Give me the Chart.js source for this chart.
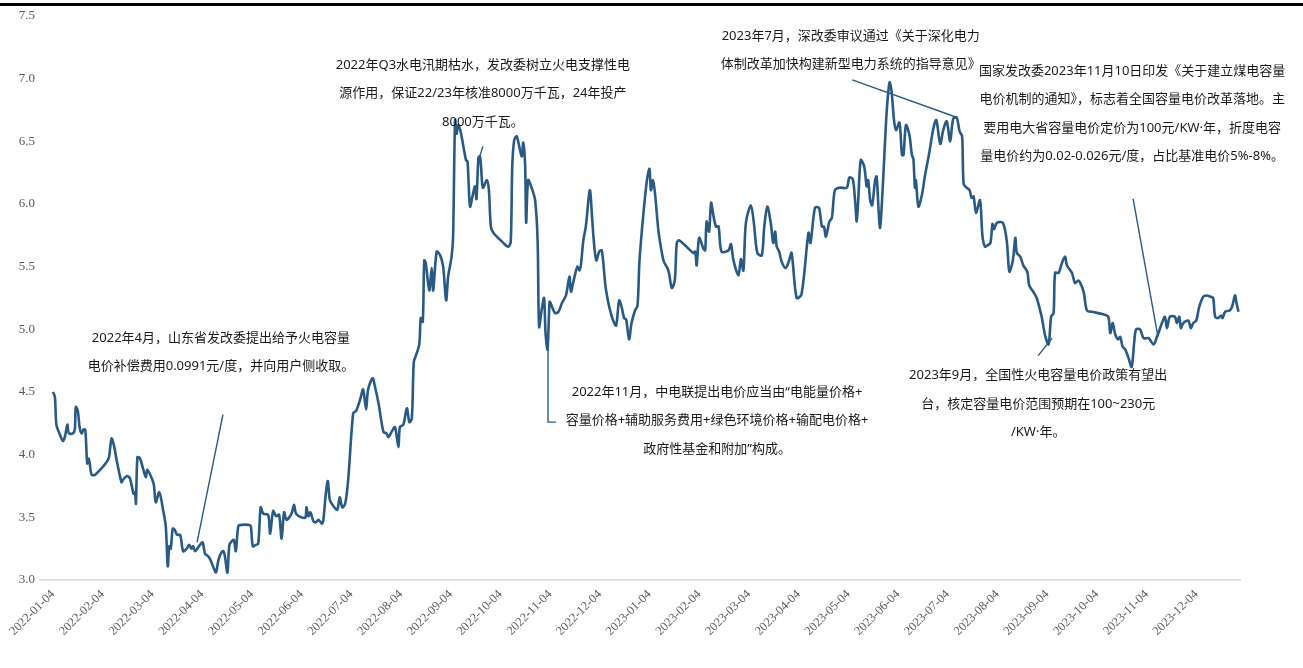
<!DOCTYPE html>
<html>
<head>
<meta charset="utf-8">
<script src="https://cdn.jsdelivr.net/npm/chart.js@4.4.1/dist/chart.umd.min.js"></script>
<style>
  html, body { margin: 0; padding: 0; background: #fff; }
  .wrap { position: relative; width: 1303px; height: 668px; }
  .topbar { position: absolute; left: 0; top: 3px; width: 1303px; height: 3px; background: #000; }
  canvas { display: block; }
</style>
</head>
<body>
<div class="wrap">
  <canvas id="priceChart" width="1303" height="668"></canvas>
  <div class="topbar"></div>
</div>
<script>
const lineColor = '#285a84';
const tickColor = '#595959';

const tickLabels = [
  '2022-01-04', '2022-02-04', '2022-03-04', '2022-04-04', '2022-05-04', '2022-06-04',
  '2022-07-04', '2022-08-04', '2022-09-04', '2022-10-04', '2022-11-04', '2022-12-04',
  '2023-01-04', '2023-02-04', '2023-03-04', '2023-04-04', '2023-05-04', '2023-06-04',
  '2023-07-04', '2023-08-04', '2023-09-04', '2023-10-04', '2023-11-04', '2023-12-04'
];

// position in months after 2022-01-04
const monthPos = [
  0.00, 0.04, 0.07, 0.14, 0.20, 0.24, 0.29, 0.32, 0.40, 0.44, 0.46, 0.50, 0.54, 0.58, 0.61, 0.65,
  0.69, 0.72, 0.74, 0.78, 0.85, 1.11, 1.15, 1.18, 1.23, 1.28, 1.38, 1.41, 1.49, 1.55, 1.62, 1.65,
  1.67, 1.70, 1.75, 1.82, 1.87, 1.90, 1.99, 2.03, 2.07, 2.14, 2.22, 2.27, 2.31, 2.34, 2.37, 2.41,
  2.45, 2.50, 2.56, 2.62, 2.69, 2.74, 2.79, 2.82, 2.86, 2.94, 3.01, 3.06, 3.12, 3.17, 3.24, 3.28,
  3.33, 3.39, 3.43, 3.46, 3.51, 3.55, 3.60, 3.64, 3.68, 3.73, 3.80, 3.93, 3.98, 4.02, 4.08, 4.13,
  4.18, 4.23, 4.33, 4.37, 4.43, 4.49, 4.55, 4.60, 4.65, 4.70, 4.80, 4.85, 4.89, 5.00, 5.08, 5.10,
  5.14, 5.18, 5.24, 5.29, 5.34, 5.41, 5.44, 5.49, 5.53, 5.57, 5.64, 5.72, 5.77, 5.82, 5.88, 5.94,
  6.04, 6.10, 6.18, 6.24, 6.30, 6.34, 6.43, 6.48, 6.55, 6.65, 6.71, 6.75, 6.81, 6.88, 6.95, 6.98,
  7.05, 7.12, 7.17, 7.22, 7.26, 7.31, 7.37, 7.40, 7.44, 7.47, 7.50, 7.57, 7.62, 7.65, 7.72, 7.79,
  7.85, 7.91, 7.95, 8.02, 8.05, 8.09, 8.12, 8.15, 8.20, 8.31, 8.34, 8.39, 8.44, 8.49, 8.52, 8.56,
  8.59, 8.61, 8.65, 8.73, 8.77, 8.81, 8.86, 9.06, 9.16, 9.21, 9.24, 9.28, 9.33, 9.43, 9.46, 9.50,
  9.52, 9.56, 9.63, 9.70, 9.75, 9.78, 9.83, 9.88, 9.91, 9.95, 9.99, 10.01, 10.10, 10.17, 10.24, 10.32,
  10.39, 10.42, 10.47, 10.55, 10.59, 10.62, 10.67, 10.72, 10.80, 10.85, 10.88, 10.93, 10.99, 11.04, 11.09, 11.12,
  11.19, 11.27, 11.33, 11.39, 11.44, 11.49, 11.53, 11.59, 11.64, 11.71, 11.76, 11.80, 11.88, 11.95, 12.00, 12.03,
  12.07, 12.11, 12.18, 12.25, 12.29, 12.38, 12.45, 12.51, 12.55, 12.60, 12.88, 12.92, 12.95, 13.00, 13.08, 13.12,
  13.15, 13.20, 13.24, 13.29, 13.34, 13.39, 13.45, 13.59, 13.64, 13.69, 13.79, 13.84, 13.89, 13.94, 14.04, 14.10,
  14.17, 14.26, 14.31, 14.37, 14.44, 14.49, 14.53, 14.56, 14.61, 14.66, 14.74, 14.81, 14.86, 14.96, 15.06, 15.20,
  15.24, 15.33, 15.41, 15.47, 15.51, 15.55, 15.62, 15.67, 15.73, 15.82, 15.97, 16.02, 16.09, 16.14, 16.17, 16.20,
  16.25, 16.32, 16.37, 16.40, 16.44, 16.48, 16.54, 16.57, 16.61, 16.64, 16.69, 16.77, 16.83, 16.87, 16.92, 16.96,
  17.03, 17.08, 17.11, 17.16, 17.23, 17.28, 17.31, 17.34, 17.36, 17.41, 17.48, 17.54, 17.63, 17.71, 17.77, 17.85,
  17.91, 17.98, 18.05, 18.11, 18.18, 18.24, 18.29, 18.32, 18.38, 18.44, 18.48, 18.52, 18.57, 18.65, 18.70, 18.75,
  18.80, 18.86, 18.90, 18.93, 18.99, 19.11, 19.19, 19.24, 19.31, 19.36, 19.39, 19.46, 19.52, 19.60, 19.64, 19.72,
  19.79, 19.89, 19.96, 20.03, 20.08, 20.13, 20.16, 20.23, 20.29, 20.36, 20.40, 20.50, 20.56, 20.63, 20.70, 20.74,
  20.80, 20.90, 21.13, 21.23, 21.27, 21.32, 21.37, 21.43, 21.47, 21.52, 21.57, 21.63, 21.70, 21.75, 21.79, 21.87,
  21.94, 22.04, 22.14, 22.21, 22.31, 22.37, 22.41, 22.47, 22.57, 22.61, 22.66, 22.69, 22.74, 22.84, 22.89, 22.94,
  23.00, 23.06, 23.14, 23.21, 23.29, 23.34, 23.38, 23.44, 23.50, 23.53, 23.58, 23.67, 23.72, 23.78, 23.81, 23.85
];

const price = [
  4.50, 4.46, 4.24, 4.16, 4.11, 4.14, 4.24, 4.17, 4.17, 4.20, 4.38, 4.35, 4.21, 4.17, 4.20, 4.20,
  3.93, 3.97, 3.93, 3.84, 3.84, 3.96, 4.05, 4.13, 4.07, 3.96, 3.78, 3.80, 3.83, 3.81, 3.69, 3.70,
  3.61, 3.98, 3.97, 3.88, 3.82, 3.88, 3.81, 3.76, 3.62, 3.70, 3.55, 3.43, 3.11, 3.27, 3.25, 3.41,
  3.40, 3.36, 3.36, 3.23, 3.25, 3.28, 3.25, 3.27, 3.23, 3.27, 3.30, 3.21, 3.19, 3.16, 3.09, 3.06,
  3.16, 3.22, 3.23, 3.19, 3.06, 3.28, 3.31, 3.32, 3.23, 3.43, 3.44, 3.44, 3.43, 3.27, 3.28, 3.29,
  3.58, 3.53, 3.52, 3.37, 3.55, 3.51, 3.52, 3.33, 3.54, 3.48, 3.53, 3.60, 3.53, 3.50, 3.50, 3.58,
  3.51, 3.54, 3.47, 3.46, 3.48, 3.45, 3.48, 3.69, 3.79, 3.64, 3.59, 3.56, 3.66, 3.58, 3.61, 3.80,
  4.33, 4.35, 4.44, 4.52, 4.36, 4.52, 4.61, 4.54, 4.41, 4.18, 4.17, 4.14, 4.18, 4.22, 4.06, 4.22,
  4.24, 4.37, 4.26, 4.29, 4.74, 4.80, 4.88, 5.09, 5.06, 5.55, 5.53, 5.31, 5.49, 5.31, 5.62, 5.59,
  5.50, 5.23, 5.42, 5.58, 5.74, 6.67, 6.56, 6.63, 6.58, 6.35, 6.34, 5.98, 6.06, 6.14, 6.04, 6.37,
  6.38, 6.31, 6.13, 6.19, 6.11, 5.82, 5.77, 5.69, 5.66, 5.70, 6.30, 6.51, 6.54, 6.38, 6.49, 6.30,
  5.85, 6.19, 6.13, 6.03, 5.71, 5.02, 5.15, 5.25, 4.97, 4.84, 5.22, 5.21, 5.13, 5.14, 5.21, 5.27,
  5.42, 5.30, 5.38, 5.50, 5.47, 5.51, 5.71, 5.82, 6.11, 5.87, 5.71, 5.55, 5.62, 5.63, 5.45, 5.33,
  5.18, 5.07, 5.03, 5.23, 5.18, 5.09, 5.08, 4.92, 5.05, 5.15, 5.19, 5.55, 5.93, 6.19, 6.28, 6.11,
  6.19, 6.09, 5.79, 5.61, 5.54, 5.47, 5.33, 5.39, 5.69, 5.71, 5.61, 5.62, 5.51, 5.73, 5.65, 5.63,
  5.86, 5.78, 6.01, 5.90, 5.82, 5.82, 5.62, 5.63, 5.68, 5.55, 5.43, 5.56, 5.47, 5.85, 5.99, 5.85,
  5.61, 5.59, 5.82, 5.98, 5.85, 5.69, 5.78, 5.66, 5.62, 5.54, 5.49, 5.55, 5.61, 5.25, 5.28, 5.77,
  5.69, 5.97, 5.97, 5.82, 5.82, 5.74, 5.86, 5.89, 6.11, 6.13, 6.13, 6.21, 6.20, 6.01, 5.86, 6.03,
  6.35, 6.30, 6.14, 6.19, 6.03, 5.99, 6.19, 6.22, 5.95, 5.81, 6.11, 6.72, 6.97, 6.90, 6.67, 6.59,
  6.65, 6.39, 6.39, 6.63, 6.55, 6.39, 6.36, 6.13, 6.19, 5.98, 6.07, 6.22, 6.41, 6.60, 6.67, 6.48,
  6.59, 6.66, 6.50, 6.68, 6.69, 6.58, 6.54, 6.16, 6.13, 6.11, 6.05, 6.06, 5.93, 6.03, 5.74, 5.66,
  5.67, 5.69, 5.84, 5.80, 5.85, 5.85, 5.70, 5.46, 5.55, 5.73, 5.61, 5.58, 5.51, 5.46, 5.35, 5.30,
  5.25, 5.10, 4.95, 4.88, 5.10, 5.13, 5.45, 5.45, 5.52, 5.58, 5.51, 5.45, 5.37, 5.39, 5.34, 5.29,
  5.15, 5.14, 5.12, 5.10, 4.97, 5.05, 4.96, 4.92, 4.94, 4.86, 4.84, 4.78, 4.70, 4.89, 5.00, 5.00,
  4.93, 4.93, 4.88, 4.94, 5.05, 5.10, 5.01, 5.10, 5.10, 5.05, 5.10, 5.01, 5.05, 5.07, 5.01, 5.05,
  5.07, 5.18, 5.26, 5.27, 5.26, 5.25, 5.10, 5.09, 5.11, 5.09, 5.14, 5.15, 5.18, 5.27, 5.21, 5.14
];

// annotation texts, placed at a centre point in data units
const noteLines = [
  ['2022年4月，山东省发改委提出给予火电容量', '电价补偿费用0.0991元/度，并向用户侧收取。'],
  ['2022年Q3水电汛期枯水，发改委树立火电支撑性电', '源作用，保证22/23年核准8000万千瓦，24年投产', '8000万千瓦。'],
  ['2022年11月，中电联提出电价应当由“电能量价格+', '容量价格+辅助服务费用+绿色环境价格+输配电价格+', '政府性基金和附加”构成。'],
  ['2023年7月，深改委审议通过《关于深化电力', '体制改革加快构建新型电力系统的指导意见》'],
  ['国家发改委2023年11月10日印发《关于建立煤电容量', '电价机制的通知》，标志着全国容量电价改革落地。主', '要用电大省容量电价定价为100元/KW·年，折度电容', '量电价约为0.02-0.026元/度，占比基准电价5%-8%。'],
  ['2023年9月，全国性火电容量电价政策有望出', '台，核定容量电价范围预期在100~230元', '/KW·年。']
];
const noteX = [3.38, 8.65, 13.36, 16.05, 21.71, 19.82];
const noteY = [4.93, 7.11, 4.50, 7.34, 7.06, 4.63];

// leader lines as [month, value] points
const leaders = [
  [[3.42, 4.32], [2.90, 3.30]],
  [[8.65, 6.46], [8.57, 6.36]],
  [[9.96, 4.84], [9.96, 4.26], [10.12, 4.26]],
  [[16.08, 6.99], [18.19, 6.69]],
  [[21.73, 6.04], [22.23, 4.94]],
  [[19.82, 4.79], [20.10, 4.93]]
];

const notesPlugin = {
  id: 'notes',
  afterDatasetsDraw(chart) {
    const { ctx, scales: { x, y } } = chart;
    ctx.save();
    ctx.strokeStyle = lineColor;
    ctx.lineWidth = 1.4;
    leaders.forEach((pts) => {
      ctx.beginPath();
      pts.forEach(([m, v], i) => {
        const px = x.getPixelForValue(m);
        const py = y.getPixelForValue(v);
        if (i === 0) ctx.moveTo(px, py); else ctx.lineTo(px, py);
      });
      ctx.stroke();
    });

    ctx.fillStyle = '#1a1a1a';
    ctx.font = '13px "Noto Sans", "Noto Sans CJK SC", sans-serif';
    ctx.textAlign = 'center';
    ctx.textBaseline = 'middle';
    noteLines.forEach((lines, k) => {
      const cx = x.getPixelForValue(noteX[k]);
      const cy = y.getPixelForValue(noteY[k]);
      lines.forEach((text, i) => ctx.fillText(text, cx, cy + i * 28.5));
    });
    ctx.restore();
  }
};

new Chart(document.getElementById('priceChart'), {
  type: 'line',
  data: {
    datasets: [{
      data: monthPos.map((m, i) => ({ x: m, y: price[i] })),
      borderColor: lineColor,
      borderWidth: 2.6,
      pointRadius: 0,
      tension: 0.3,
      fill: false
    }]
  },
  options: {
    responsive: false,
    animation: false,
    layout: { padding: { top: 16, right: 63, bottom: 0, left: 0 } },
    plugins: { legend: { display: false }, tooltip: { enabled: false } },
    scales: {
      x: {
        type: 'linear',
        min: -0.26,
        max: 23.88,
        afterFit: (scale) => { scale.height = 88; },
        afterBuildTicks: (scale) => {
          scale.ticks = tickLabels.map((_, i) => ({ value: i }));
        },
        grid: { display: false, drawTicks: false },
        border: { display: true, color: '#d9d9d9', width: 1.5 },
        ticks: {
          autoSkip: false,
          minRotation: 45,
          maxRotation: 45,
          padding: 7,
          color: tickColor,
          font: { family: '"Liberation Serif", serif', size: 12.5 },
          callback: (value) => tickLabels[value]
        }
      },
      y: {
        min: 3,
        max: 7.5,
        afterFit: (scale) => { scale.width = 40; },
        grid: { display: false, drawTicks: false },
        border: { display: false },
        ticks: {
          stepSize: 0.5,
          padding: 5,
          color: tickColor,
          font: { family: '"Liberation Serif", serif', size: 13 },
          callback: (value) => value.toFixed(1)
        }
      }
    }
  },
  plugins: [notesPlugin]
});
</script>
</body>
</html>
